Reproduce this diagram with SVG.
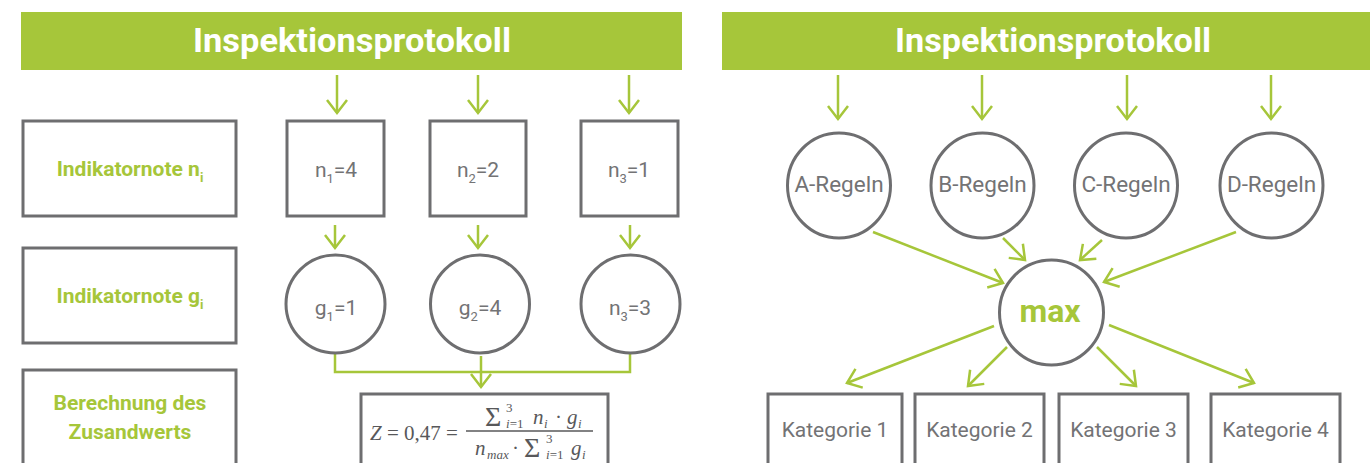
<svg xmlns="http://www.w3.org/2000/svg" width="1370" height="463" viewBox="0 0 1370 463">
<style>
.hdr{fill:#a6c63a}
.hdrt{font-family:Roboto,"Liberation Sans",sans-serif;font-weight:bold;font-size:34px;fill:#fff;text-anchor:middle}
.box{fill:#fff;stroke:#6e6e70;stroke-width:3}
.lbl{font-family:Roboto,"Liberation Sans",sans-serif;font-weight:bold;font-size:21px;fill:#a6c63a;text-anchor:middle}
.val{font-family:Roboto,"Liberation Sans",sans-serif;font-size:21px;fill:#737375;text-anchor:middle}
.rg{font-size:22.5px}
.sub{font-size:13px}
.conn{fill:none;stroke:#a6c63a;stroke-width:2.5}
.f{font-family:"Liberation Serif","Times New Roman",serif;font-size:21px;fill:#58585a}
.fi{font-style:italic}
.f.sig{font-size:28px}
.fs{font-family:"Liberation Serif","Times New Roman",serif;font-size:13px;fill:#58585a}
</style>
<defs>
<marker id="ah" markerUnits="userSpaceOnUse" markerWidth="24" markerHeight="26" viewBox="0 0 24 26" refX="19" refY="13" orient="auto">
<path d="M6,3 L19,13 L6,23" fill="none" stroke="#a6c63a" stroke-width="2.5"/>
</marker>
</defs>
<rect width="1370" height="463" fill="#fff"/>

<g id="header-left">
<rect class="hdr" x="21" y="12" width="661" height="58"/>
<text class="hdrt" x="352" y="52" textLength="318" lengthAdjust="spacingAndGlyphs">Inspektionsprotokoll</text>
</g>
<g id="header-right">
<rect class="hdr" x="722" y="12" width="648" height="58"/>
<text class="hdrt" x="1053" y="52" textLength="316" lengthAdjust="spacingAndGlyphs">Inspektionsprotokoll</text>
</g>

<g id="connectors">
<line class="conn" x1="337" y1="75" x2="337" y2="113" marker-end="url(#ah)"/>
<line class="conn" x1="478" y1="75" x2="478" y2="113" marker-end="url(#ah)"/>
<line class="conn" x1="629" y1="75" x2="629" y2="113" marker-end="url(#ah)"/>
<line class="conn" x1="335" y1="225" x2="335" y2="248" marker-end="url(#ah)"/>
<line class="conn" x1="478" y1="225" x2="478" y2="248" marker-end="url(#ah)"/>
<line class="conn" x1="630" y1="225" x2="630" y2="248" marker-end="url(#ah)"/>
<polyline class="conn" points="335,354 335,372 630,372 630,354"/>
<line class="conn" x1="481" y1="356" x2="481" y2="387" marker-end="url(#ah)"/>
<line class="conn" x1="838" y1="75" x2="838" y2="119" marker-end="url(#ah)"/>
<line class="conn" x1="982" y1="75" x2="982" y2="119" marker-end="url(#ah)"/>
<line class="conn" x1="1127" y1="75" x2="1127" y2="119" marker-end="url(#ah)"/>
<line class="conn" x1="1271" y1="75" x2="1271" y2="119" marker-end="url(#ah)"/>
<line class="conn" x1="873" y1="232" x2="1003" y2="283" marker-end="url(#ah)"/>
<line class="conn" x1="1003" y1="238" x2="1025" y2="260" marker-end="url(#ah)"/>
<line class="conn" x1="1102" y1="240" x2="1080" y2="260" marker-end="url(#ah)"/>
<line class="conn" x1="1236" y1="232" x2="1104" y2="282" marker-end="url(#ah)"/>
<line class="conn" x1="994" y1="326" x2="847" y2="383" marker-end="url(#ah)"/>
<line class="conn" x1="1007" y1="347" x2="968" y2="386" marker-end="url(#ah)"/>
<line class="conn" x1="1097" y1="347" x2="1136" y2="386" marker-end="url(#ah)"/>
<line class="conn" x1="1109" y1="325" x2="1254" y2="383" marker-end="url(#ah)"/>
</g>

<g id="label-ni">
<rect class="box" x="23" y="121" width="213" height="95"/>
<text class="lbl" x="130" y="176">Indikatornote n<tspan class="sub" dy="6">i</tspan></text>
</g>
<g id="n1">
<rect class="box" x="287" y="121" width="97" height="95"/>
<text class="val" x="336" y="177">n<tspan class="sub" dy="6">1</tspan><tspan dy="-6">=4</tspan></text>
</g>
<g id="n2">
<rect class="box" x="430" y="121" width="96" height="95"/>
<text class="val" x="478" y="177">n<tspan class="sub" dy="6">2</tspan><tspan dy="-6">=2</tspan></text>
</g>
<g id="n3">
<rect class="box" x="581" y="121" width="97" height="95"/>
<text class="val" x="629" y="177">n<tspan class="sub" dy="6">3</tspan><tspan dy="-6">=1</tspan></text>
</g>

<g id="label-gi">
<rect class="box" x="23" y="248" width="213" height="95"/>
<text class="lbl" x="130" y="303">Indikatornote g<tspan class="sub" dy="6">i</tspan></text>
</g>
<g id="g1">
<ellipse class="box" cx="335.5" cy="304" rx="49.5" ry="49"/>
<text class="val" x="336" y="315">g<tspan class="sub" dy="6">1</tspan><tspan dy="-6">=1</tspan></text>
</g>
<g id="g2">
<ellipse class="box" cx="480" cy="304" rx="49.5" ry="49"/>
<text class="val" x="480" y="315">g<tspan class="sub" dy="6">2</tspan><tspan dy="-6">=4</tspan></text>
</g>
<g id="g3">
<ellipse class="box" cx="630.5" cy="304" rx="49.5" ry="49"/>
<text class="val" x="630" y="315">n<tspan class="sub" dy="6">3</tspan><tspan dy="-6">=3</tspan></text>
</g>

<g id="label-z">
<rect class="box" x="23" y="370" width="213" height="110"/>
<text class="lbl" x="130" y="410">Berechnung des</text>
<text class="lbl" x="130" y="439">Zusandwerts</text>
</g>
<g id="formula">
<rect class="box" x="361" y="394" width="247" height="90"/>
<text class="f" x="370" y="440"><tspan class="fi">Z</tspan> = 0,47 =</text>
<line x1="466" y1="431" x2="593" y2="431" stroke="#58585a" stroke-width="1.3"/>
<text class="f sig" x="485" y="426">Σ</text>
<text class="fs" x="506" y="412">3</text>
<text class="fs" x="506" y="428"><tspan class="fi">i</tspan>=1</text>
<text class="f fi" x="533" y="424">n</text>
<text class="fs fi" x="544" y="428">i</text>
<text class="f" x="555" y="424">·</text>
<text class="f fi" x="567" y="424">g</text>
<text class="fs fi" x="578" y="428">i</text>
<text class="f fi" x="475" y="455">n</text>
<text class="fs fi" x="487" y="459">max</text>
<text class="f" x="512" y="455">·</text>
<text class="f sig" x="524" y="457">Σ</text>
<text class="fs" x="546" y="443">3</text>
<text class="fs" x="546" y="459"><tspan class="fi">i</tspan>=1</text>
<text class="f fi" x="571" y="455">g</text>
<text class="fs fi" x="582" y="459">i</text>
</g>

<g id="a-regeln">
<ellipse class="box" cx="839" cy="185.5" rx="51.5" ry="52.5"/>
<text class="val rg" x="839" y="192">A-Regeln</text>
</g>
<g id="b-regeln">
<ellipse class="box" cx="982.5" cy="185.5" rx="51.5" ry="52.5"/>
<text class="val rg" x="982.5" y="192">B-Regeln</text>
</g>
<g id="c-regeln">
<ellipse class="box" cx="1126" cy="185.5" rx="51.5" ry="52.5"/>
<text class="val rg" x="1126" y="192">C-Regeln</text>
</g>
<g id="d-regeln">
<ellipse class="box" cx="1271.5" cy="185.5" rx="51.5" ry="52.5"/>
<text class="val rg" x="1271.5" y="192">D-Regeln</text>
</g>
<g id="max">
<ellipse class="box" cx="1051.5" cy="312.5" rx="52" ry="52.5"/>
<text class="lbl" x="1050" y="322" style="font-size:32px">max</text>
</g>

<g id="kategorie-1">
<rect class="box" x="768" y="394" width="134" height="90"/>
<text class="val" x="835" y="437">Kategorie 1</text>
</g>
<g id="kategorie-2">
<rect class="box" x="915" y="394" width="129" height="90"/>
<text class="val" x="979.5" y="437">Kategorie 2</text>
</g>
<g id="kategorie-3">
<rect class="box" x="1059" y="394" width="129" height="90"/>
<text class="val" x="1123.5" y="437">Kategorie 3</text>
</g>
<g id="kategorie-4">
<rect class="box" x="1211" y="394" width="129" height="90"/>
<text class="val" x="1275.5" y="437">Kategorie 4</text>
</g>
</svg>
